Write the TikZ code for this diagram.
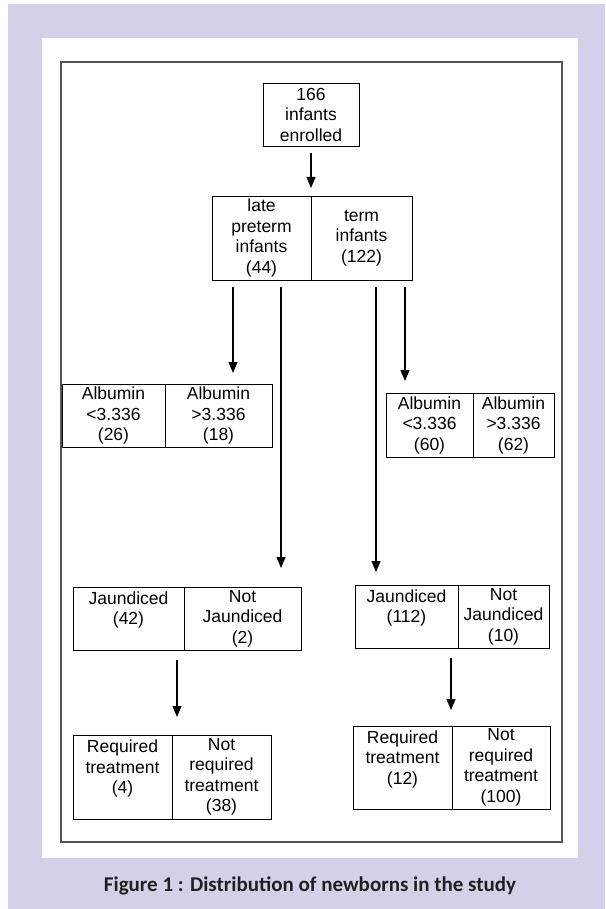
\documentclass[tikz,border=0pt]{standalone}
\usepackage{fontspec}
\setmainfont{Liberation Sans}
\newfontfamily\capfont{Carlito}
\usetikzlibrary{positioning,arrows.meta}

\definecolor{panelbg}{RGB}{211,209,232}
\definecolor{framegray}{RGB}{85,85,85}
\definecolor{captext}{RGB}{35,31,32}

\tikzset{
  cell/.style={draw, line width=0.8pt, inner sep=0pt, outer sep=0pt,
               align=center, font=\fontsize{17.5}{20.5}\selectfont},
  arr/.style={-{Triangle[length=11pt,width=9pt]}, line width=1.1pt,
              shorten <=7pt},
  caption/.style={font=\capfont\bfseries\fontsize{21}{24}\selectfont,
                  text=captext}
}

\begin{document}
\begin{tikzpicture}[x=1pt, y=-1pt]
  \useasboundingbox (0,0) rectangle (605,909);
  % Background and frame
  \fill[panelbg] (8,4) rectangle (605,909);
  \fill[white] (42,38) rectangle (578,858);
  \draw[framegray, line width=1.4pt] (61,62) rectangle (562,842);

  % Define nodes
  \node[cell, minimum width=96, minimum height=63]  at (311,114.5) (enrol) {166\\infants\\enrolled};
  \node[cell, minimum width=99, minimum height=84]  at (261.5,238) (ptL)   {late\\preterm\\infants\\(44)};
  \node[cell, minimum width=101, minimum height=84, right=0pt of ptL]  (ptR)   {term\\infants\\(122)};
  \node[cell, minimum width=103, minimum height=63] at (113.5,415.5) (albL1) {Albumin\\<3.336\\(26)};
  \node[cell, minimum width=107, minimum height=63, right=0pt of albL1] (albL2) {Albumin\\>3.336\\(18)};
  \node[cell, minimum width=87, minimum height=64]  at (429.5,425) (albR1) {Albumin\\<3.336\\(60)};
  \node[cell, minimum width=81, minimum height=64, right=0pt of albR1] (albR2) {Albumin\\>3.336\\(62)};
  \node[cell, minimum width=111, minimum height=63] at (128.5,618.5) (jauL1) {Jaundiced\\(42)\\\mbox{}};
  \node[cell, minimum width=117, minimum height=63, right=0pt of jauL1] (jauL2) {Not\\Jaundiced\\(2)};
  \node[cell, minimum width=103, minimum height=63] at (406.5,616.5) (jauR1) {Jaundiced\\(112)\\\mbox{}};
  \node[cell, minimum width=91, minimum height=63, right=0pt of jauR1] (jauR2) {Not\\Jaundiced\\(10)};
  \node[cell, minimum width=99, minimum height=84]  at (122.5,777) (reqL1) {Required\\treatment\\(4)\\\mbox{}};
  \node[cell, minimum width=99, minimum height=84, right=0pt of reqL1] (reqL2) {Not\\required\\treatment\\(38)};
  \node[cell, minimum width=99, minimum height=83]  at (402.5,767.5) (reqR1) {Required\\treatment\\(12)\\\mbox{}};
  \node[cell, minimum width=98, minimum height=83, right=0pt of reqR1] (reqR2) {Not\\required\\treatment\\(100)};

  \node[caption] at (310,886) (cap) {Figure 1 : Distribution of newborns in the study};

  % Connect the nodes
  \draw[arr, shorten >=8pt]  (enrol.south) -- (enrol.south |- ptL.north);
  \draw[arr, shorten >=11pt] ([xshift=-28.5pt]ptL.south) -- ([xshift=-28.5pt]ptL.south |- albL1.north);
  \draw[arr, shorten >=19pt] ([xshift=19.5pt]ptL.south)  -- ([xshift=19.5pt]ptL.south |- jauL2.north);
  \draw[arr, shorten >=13pt] ([xshift=14.5pt]ptR.south)  -- ([xshift=14.5pt]ptR.south |- jauR1.north);
  \draw[arr, shorten >=12pt] ([xshift=43.5pt]ptR.south)  -- ([xshift=43.5pt]ptR.south |- albR1.north);
  \draw[arr, shorten <=10pt, shorten >=18pt] ([xshift=48.5pt]jauL1.south) -- ([xshift=48.5pt]jauL1.south |- reqL1.north);
  \draw[arr, shorten <=10pt, shorten >=16pt] ([xshift=44.5pt]jauR1.south) -- ([xshift=44.5pt]jauR1.south |- reqR1.north);
\end{tikzpicture}
\end{document}
